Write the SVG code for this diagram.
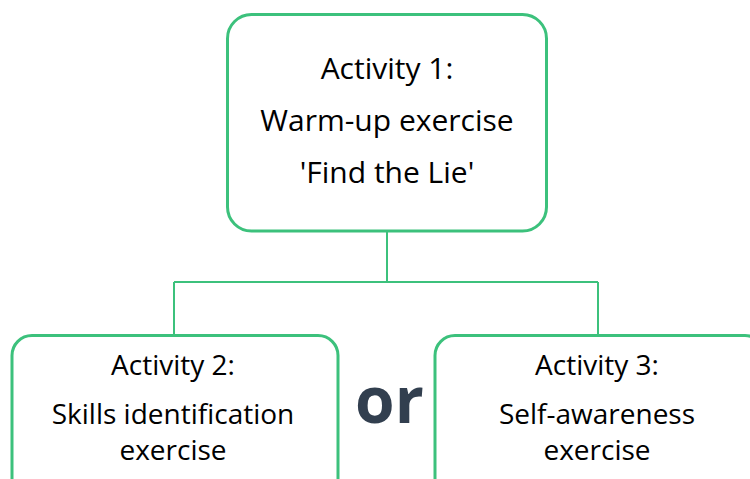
<svg xmlns="http://www.w3.org/2000/svg" width="750" height="479" viewBox="0 0 750 479">
<style>
.box{fill:#ffffff;stroke:#3CC17C;stroke-width:3}
.conn{fill:none;stroke:#3CC17C;stroke-width:2}
.t{font-family:"Open Sans","Liberation Sans",sans-serif;fill:#000000;text-anchor:middle}
.big{font-size:30px}
.sm{font-size:28px}
.or{font-family:"Open Sans","Liberation Sans",sans-serif;font-weight:bold;font-size:64px;fill:#323F4F}
</style>
<rect width="750" height="479" fill="#ffffff"/>
<g id="connectors">
<path class="conn" d="M387 231 V282 M174 282 H598 M174 282 V335 M598 282 V335"/>
</g>
<g id="node1">
<rect class="box" x="227.5" y="14.5" width="319" height="216.5" rx="24"/>
<text class="t big" x="387" y="79">Activity 1:</text>
<text class="t big" x="387" y="131">Warm-up exercise</text>
<text class="t big" x="387" y="183">'Find the Lie'</text>
</g>
<g id="node2">
<rect class="box" x="12" y="335.5" width="326" height="170" rx="20"/>
<text class="t sm" x="173" y="375">Activity 2:</text>
<text class="t sm" x="173" y="424">Skills identification</text>
<text class="t sm" x="173" y="460">exercise</text>
</g>
<g id="node3">
<rect class="box" x="435" y="335.5" width="330" height="170" rx="20"/>
<text class="t sm" x="597" y="375">Activity 3:</text>
<text class="t sm" x="597" y="424">Self-awareness</text>
<text class="t sm" x="597" y="460">exercise</text>
</g>
<g id="or">
<text class="or" x="355" y="423">or</text>
</g>
</svg>
